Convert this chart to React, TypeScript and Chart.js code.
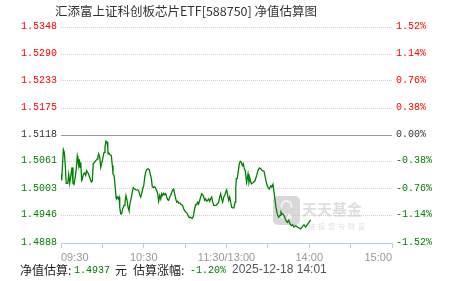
import { useEffect, useRef } from "react";
import { Chart, registerables } from "chart.js";

Chart.register(...registerables);

// ---- data ----
const prevNav = 1.5118;
const titleText = "汇添富上证科创板芯片ETF[588750] 净值估算图";
const estNav = "1.4937";
const estPct = "-1.20%";
const estTime = "2025-12-18 14:01";

// minutes since 09:30 (trading minutes; 11:30 and 13:00 both at 120)
const minutes = [
  0, 0.5, 1.7, 2.4, 3.1, 3.8, 4.9, 5.6, 6.3, 7.3,
  8.0, 8.7, 9.4, 10.4, 11.1, 11.8, 12.3, 12.8, 13.3, 13.8,
  14.3, 15.0, 15.4, 16.2, 17.2, 17.9, 18.6, 19.6, 20.8, 22.0,
  22.7, 23.4, 24.4, 25.4, 26.3, 26.8, 27.3, 28.1, 28.8, 29.5,
  30.5, 31.2, 31.9, 32.6, 33.4, 33.9, 34.1, 34.8, 35.5, 36.5,
  37.2, 37.7, 38.4, 38.9, 39.7, 40.1, 40.8, 41.5, 42.1, 42.6,
  43.3, 44.0, 44.7, 45.7, 46.4, 47.1, 47.9, 48.6, 49.3, 50.0,
  50.8, 51.5, 52.4, 53.4, 54.4, 55.3, 56.3, 57.1, 57.8, 58.5,
  59.2, 60.0, 60.7, 61.4, 62.1, 63.1, 64.0, 64.7, 65.5, 66.2,
  66.9, 67.7, 68.4, 69.4, 70.1, 70.8, 71.6, 72.3, 73.0, 73.7,
  74.5, 75.2, 75.9, 76.6, 77.4, 78.1, 78.8, 79.5, 80.3, 81.0,
  81.7, 82.4, 83.2, 83.9, 84.6, 85.3, 86.3, 87.2, 88.2, 88.9,
  90.1, 91.4, 92.1, 93.0, 94.0, 95.0, 95.9, 96.9, 97.7, 98.4,
  99.1, 99.8, 100.6, 101.3, 102.0, 102.7, 103.5, 104.2, 104.9, 105.6,
  106.4, 107.1, 107.8, 108.5, 109.3, 110.0, 110.7, 111.4, 112.4, 113.3,
  114.3, 115.1, 115.8, 116.5, 117.2, 118.0, 118.7, 119.4, 120.1, 120.9,
  121.6, 122.3, 123.0, 123.8, 124.5, 125.4, 126.2, 126.7, 127.1, 127.8,
  128.6, 129.3, 130.0, 130.7, 131.5, 132.2, 132.9, 133.6, 134.6, 135.6,
  136.3, 137.0, 138.0, 139.4, 140.7, 141.9, 142.8, 143.8, 144.8, 146.0,
  147.2, 148.1, 149.1, 150.1, 151.0, 152.1, 152.8, 153.7, 154.5, 155.2,
  155.9, 156.8, 157.8, 158.8, 159.5, 160.2, 161.2, 162.2, 163.1, 164.1,
  165.1, 166.0, 167.0, 168.0, 168.9, 170.2, 171.3, 172.6, 173.8, 175.0,
  176.2, 177.4, 178.6, 181.0,
];

const navValues = [
  1.5035, 1.5021, 1.5087, 1.5081, 1.5053, 1.5015, 1.5015, 1.5034, 1.5015, 1.5034,
  1.5049, 1.5015, 1.5013, 1.5030, 1.5047, 1.5073, 1.5064, 1.5053, 1.5066, 1.5049,
  1.5060, 1.5021, 1.5023, 1.5034, 1.5037, 1.5032, 1.5042, 1.5037, 1.5028, 1.5018,
  1.5020, 1.5057, 1.5060, 1.5064, 1.5067, 1.5072, 1.5078, 1.5071, 1.5049, 1.5057,
  1.5071, 1.5081, 1.5092, 1.5105, 1.5103, 1.5092, 1.5078, 1.5079, 1.5076, 1.5074,
  1.5053, 1.5035, 1.5032, 1.5021, 1.4993, 1.4982, 1.4986, 1.4982, 1.4986, 1.4964,
  1.4950, 1.4950, 1.4961, 1.4968, 1.4975, 1.4989, 1.4979, 1.4964, 1.4957, 1.4972,
  1.4982, 1.4993, 1.5006, 1.5003, 1.5001, 1.5001, 1.5000, 1.4991, 1.4986, 1.4993,
  1.5003, 1.5010, 1.5028, 1.5039, 1.5044, 1.5046, 1.5044, 1.5035, 1.5025, 1.5008,
  1.5006, 1.5008, 1.5006, 1.5000, 1.4993, 1.4977, 1.4989, 1.4982, 1.4993, 1.4989,
  1.4994, 1.4991, 1.4993, 1.4986, 1.4980, 1.4979, 1.4986, 1.4989, 1.4996, 1.5001,
  1.5003, 1.4993, 1.4982, 1.4975, 1.4977, 1.4973, 1.4973, 1.4970, 1.4968, 1.4961,
  1.4955, 1.4951, 1.4947, 1.4942, 1.4943, 1.4940, 1.4944, 1.4961, 1.4970, 1.4970,
  1.4975, 1.4971, 1.4979, 1.4986, 1.4993, 1.4991, 1.4986, 1.4979, 1.4982, 1.4977,
  1.4979, 1.4982, 1.4977, 1.4982, 1.4986, 1.4975, 1.4968, 1.4968, 1.4968, 1.4971,
  1.4975, 1.4986, 1.4993, 1.4982, 1.4975, 1.4986, 1.4989, 1.4996, 1.5001, 1.4989,
  1.4979, 1.4986, 1.4975, 1.4964, 1.4963, 1.4963, 1.4975, 1.5003, 1.5025, 1.5025,
  1.5042, 1.5057, 1.5062, 1.5060, 1.5053, 1.5057, 1.5046, 1.5042, 1.5017, 1.5035,
  1.5017, 1.5025, 1.5014, 1.5017, 1.5021, 1.5032, 1.5042, 1.5048, 1.5046, 1.5042,
  1.5041, 1.5028, 1.5014, 1.5006, 1.5003, 1.5010, 1.5007, 1.5013, 1.4996, 1.4979,
  1.4964, 1.4950, 1.4943, 1.4947, 1.4954, 1.4950, 1.4949, 1.4943, 1.4936, 1.4932,
  1.4936, 1.4929, 1.4925, 1.4927, 1.4922, 1.4925, 1.4922, 1.4920, 1.4918, 1.4923,
  1.4927, 1.4922, 1.4927, 1.4937,
];

const navTicks = [1.5348, 1.529, 1.5233, 1.5175, 1.5118, 1.5061, 1.5003, 1.4946, 1.4888];
const pctTicks = ["1.52%", "1.14%", "0.76%", "0.38%", "0.00%", "-0.38%", "-0.76%", "-1.14%", "-1.52%"];
const timeTickMinutes = [0, 30, 60, 90, 120, 150, 180, 210, 240];
const timeTickLabels = ["09:30", "", "10:30", "", "11:30/13:00", "", "14:00", "", "15:00"];

const RED = "#ff0000";
const GREEN = "#008000";
const NEUTRAL = "#333333";
const MONO = '"Liberation Mono", "DejaVu Sans Mono", monospace';
const CJK = '"Noto Sans CJK SC", sans-serif';
const SANS = '"Liberation Sans", Arial, sans-serif';

function colorFor(v: number) {
  if (Math.abs(v - prevNav) < 1e-6) return NEUTRAL;
  return v > prevNav ? RED : GREEN;
}

const decorPlugin = {
  id: "decor",
  beforeDatasetsDraw(chart: any) {
    const { ctx, chartArea, scales } = chart;
    ctx.save();
    // watermark
    const lx = 273, ly = 196, lw = 27, lh = 29, r = 5;
    ctx.fillStyle = "rgba(190,190,190,0.6)";
    ctx.beginPath();
    ctx.moveTo(lx + r, ly);
    ctx.arcTo(lx + lw, ly, lx + lw, ly + lh, r);
    ctx.arcTo(lx + lw, ly + lh, lx, ly + lh, r);
    ctx.arcTo(lx, ly + lh, lx, ly, r);
    ctx.arcTo(lx, ly, lx + lw, ly, r);
    ctx.closePath();
    ctx.fill();
    ctx.strokeStyle = "rgba(255,255,255,0.9)";
    ctx.lineWidth = 1.5;
    ctx.beginPath();
    ctx.arc(lx + lw / 2, ly + 10, 5, Math.PI * 0.9, Math.PI * 2.1);
    ctx.stroke();
    ctx.fillStyle = "rgba(255,255,255,0.9)";
    ctx.font = `bold 8px ${SANS}`;
    ctx.textAlign = "center";
    ctx.textBaseline = "middle";
    ctx.fillText("KA", lx + lw / 2, ly + 21);
    ctx.fillStyle = "rgba(200,200,200,0.6)";
    ctx.font = `bold 15px ${CJK}`;
    ctx.textAlign = "left";
    ctx.fillText("天天基金", 302, 209);
    ctx.font = `7px ${CJK}`;
    (ctx as any).letterSpacing = "3px";
    ctx.fillText("链接您与财富", 308, 226);
    (ctx as any).letterSpacing = "0px";
    // zero line
    const y0 = Math.round(scales.y.getPixelForValue(prevNav)) + 0.5;
    ctx.strokeStyle = "#999999";
    ctx.lineWidth = 1;
    ctx.beginPath();
    ctx.moveTo(chartArea.left, y0);
    ctx.lineTo(chartArea.right, y0);
    ctx.stroke();
    ctx.restore();
  },
  afterDraw(chart: any) {
    const { ctx } = chart;
    ctx.save();
    ctx.textBaseline = "middle";
    ctx.textAlign = "center";
    ctx.fillStyle = "#333333";
    ctx.font = `12.5px ${CJK}`;
    ctx.fillText(titleText, 186, 11);

    ctx.textAlign = "left";
    const fy = 270;
    const segs: [string, string, string, number][] = [
      ["净值估算:", "#222222", `12px ${CJK}`, 20],
      [estNav, GREEN, `10px ${MONO}`, 74],
      ["元", "#222222", `12px ${CJK}`, 115],
      ["估算涨幅:", "#222222", `12px ${CJK}`, 133],
      [estPct, GREEN, `10px ${MONO}`, 190],
      [estTime, "#555555", `12px ${SANS}`, 232],
    ];
    for (const [t, c, f, x] of segs) {
      ctx.fillStyle = c;
      ctx.font = f;
      ctx.fillText(t, x, fy);
    }
    ctx.restore();
  },
};

export default function App() {
  const ref = useRef<HTMLCanvasElement>(null);
  useEffect(() => {
    if (!ref.current) return;
    const n = Math.min(minutes.length, navValues.length);
    const points = [];
    for (let i = 0; i < n; i++) points.push({ x: minutes[i], y: navValues[i] });
    const chart = new Chart(ref.current, {
      type: "line",
      data: {
        datasets: [
          {
            data: points,
            borderColor: GREEN,
            borderWidth: 1.3,
            pointRadius: 0,
            tension: 0,
            fill: false,
            yAxisID: "y",
          },
        ],
      },
      options: {
        animation: false,
        responsive: false,
        events: [],
        layout: { padding: { top: 27, left: 0, right: 0, bottom: 0 } },
        plugins: {
          legend: { display: false },
          tooltip: { enabled: false },
          title: { display: false },
        },
        scales: {
          x: {
            type: "linear",
            min: 0,
            max: 240,
            afterBuildTicks: (s: any) => {
              s.ticks = timeTickMinutes.map((v) => ({ value: v }));
            },
            afterFit: (s: any) => {
              s.height = 38;
            },
            grid: { drawOnChartArea: false, drawTicks: true, tickLength: 5, color: "#b9cde0" },
            border: { color: "#b9cde0" },
            ticks: {
              autoSkip: false,
              maxRotation: 0,
              minRotation: 0,
              align: "inner",
              padding: 3,
              color: "#999999",
              font: { family: SANS, size: 11 },
              callback: (_v: any, i: number) => timeTickLabels[i],
            },
          },
          y: {
            position: "left",
            min: navTicks[navTicks.length - 1],
            max: navTicks[0],
            afterBuildTicks: (s: any) => {
              s.ticks = navTicks.map((v) => ({ value: v }));
            },
            afterFit: (s: any) => {
              s.width = 61;
            },
            grid: {
              drawTicks: false,
              color: "#d4d4d4",
              lineWidth: (c: any) =>
                c.tick && (Math.abs(c.tick.value - prevNav) < 1e-6 || c.index === navTicks.length - 1) ? 0 : 1,
            },
            border: { display: false, dash: [1, 1] },
            ticks: {
              padding: 4,
              labelOffset: -1,
              font: { family: MONO, size: 10 },
              color: (c: any) => colorFor(c.tick.value),
              callback: (v: any) => Number(v).toFixed(4),
            },
          },
          y1: {
            position: "right",
            min: navTicks[navTicks.length - 1],
            max: navTicks[0],
            afterBuildTicks: (s: any) => {
              s.ticks = navTicks.map((v) => ({ value: v }));
            },
            afterFit: (s: any) => {
              s.width = 59;
            },
            grid: { display: false, drawTicks: false },
            border: { display: false },
            ticks: {
              padding: 4,
              labelOffset: -1,
              font: { family: MONO, size: 10 },
              color: (c: any) => colorFor(c.tick.value),
              callback: (_v: any, i: number) => pctTicks[i],
            },
          },
        },
      },
      plugins: [decorPlugin],
    } as any);
    return () => chart.destroy();
  }, []);
  return (
    <div style={{ position: "fixed", left: 0, top: 0, width: 451, height: 281, background: "#fff" }}>
      <canvas ref={ref} width={451} height={281} style={{ display: "block" }} />
    </div>
  );
}
